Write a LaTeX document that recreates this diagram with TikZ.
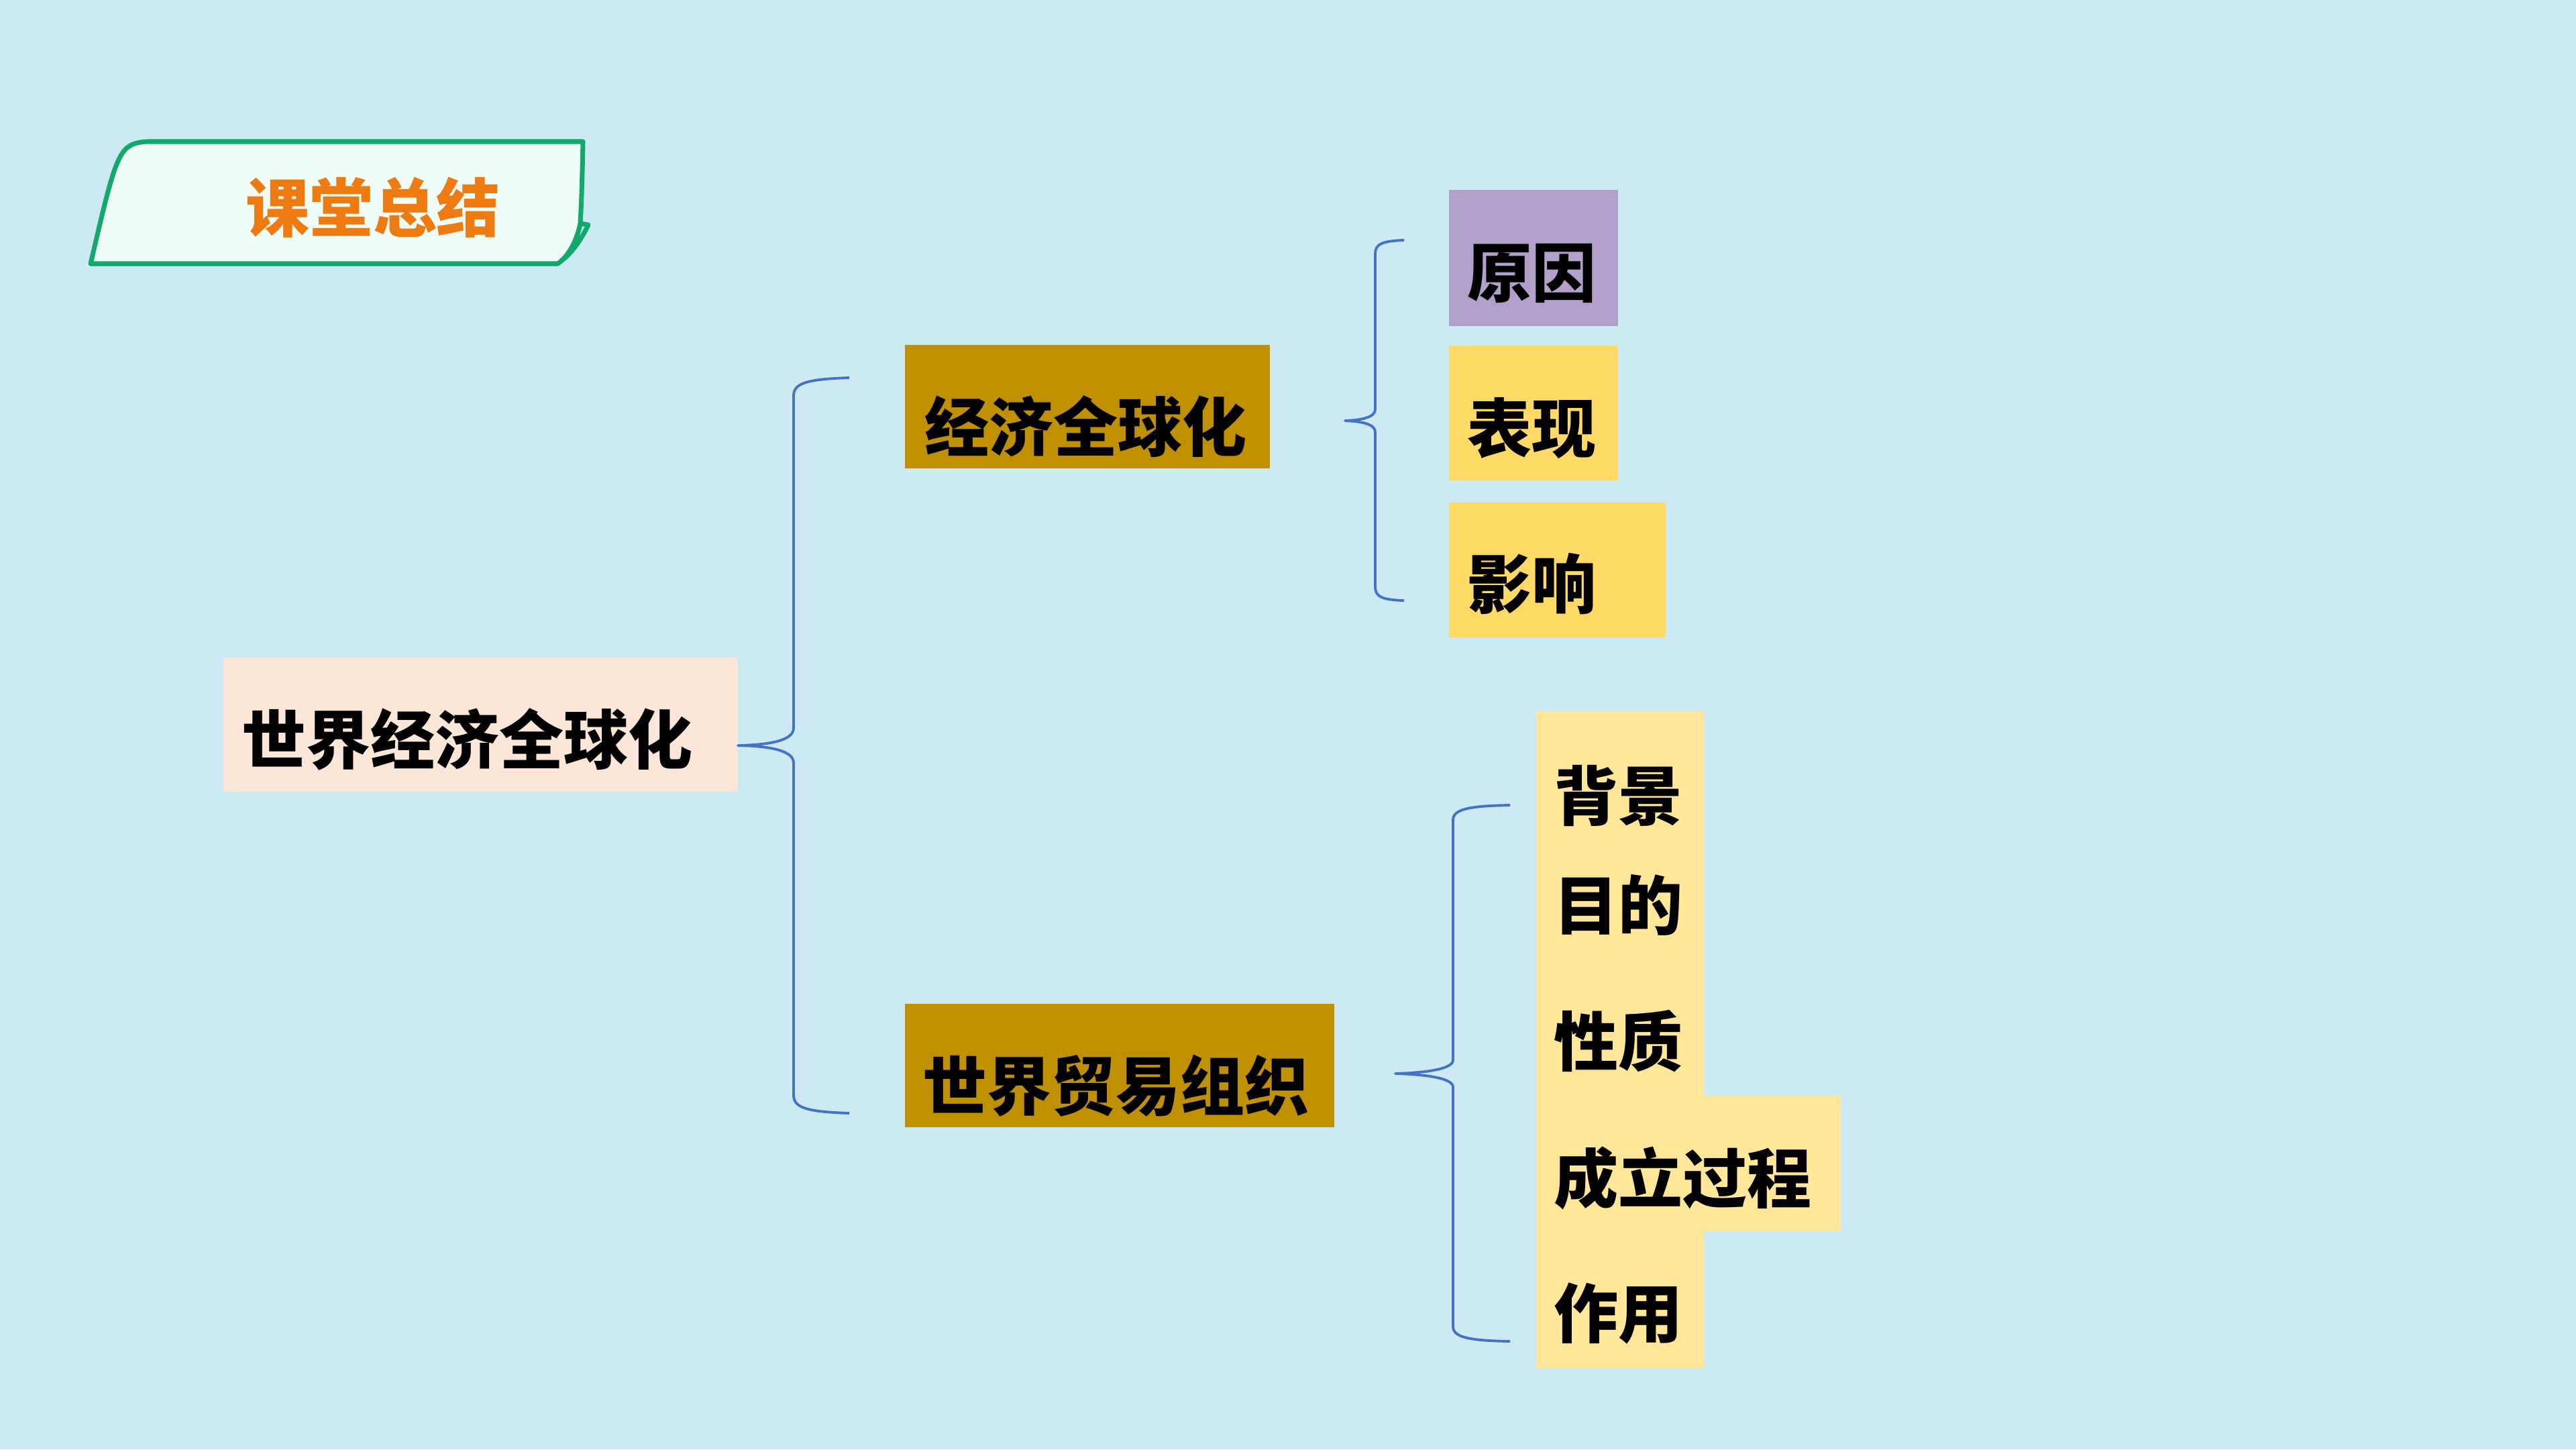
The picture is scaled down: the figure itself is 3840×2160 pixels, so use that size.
\documentclass[tikz,border=0pt]{standalone}
\usepackage{fontspec}
\newfontfamily\cjk{Noto Sans CJK SC Black}
\definecolor{bgc}{HTML}{CDEAF4}
\definecolor{gold}{HTML}{BF9000}
\definecolor{peach}{HTML}{FCE6D8}
\definecolor{lav}{HTML}{B1A0C7}
\definecolor{ylw}{HTML}{FFD966}
\definecolor{lylw}{HTML}{FFE699}
\definecolor{brc}{HTML}{4472C4}
\definecolor{grn}{HTML}{13A96C}
\definecolor{mint}{HTML}{F0FCF8}
\definecolor{org}{HTML}{EE7A12}
\tikzset{
  box/.style={inner sep=0pt, draw=none},
  lbl/.style={inner sep=0pt, anchor=west, font=\cjk\fontsize{27.3pt}{32pt}\selectfont, text=black},
  brace/.style={draw=brc, line width=1.1pt, line join=round},
}
\begin{document}
\begin{tikzpicture}[x=0.01cm,y=-0.01cm]
\fill[bgc] (0,0) rectangle (3840,2160);
\useasboundingbox (0,0) rectangle (3840,2160);

% title banner
\draw[grn, line width=2pt, fill=mint, line join=round]
  (135,393) .. controls (150,330) and (165,260) .. (178,236)
  .. controls (186,220) and (195,212) .. (220,211) -- (869,211)
  .. controls (868,260) and (867,300) .. (865,333)
  .. controls (860,360) and (845,385) .. (831,393) -- cycle;
\draw[grn, line width=2pt, line join=round]
  (865,333) -- (877,335) .. controls (865,360) and (850,380) .. (836,389);
\node[inner sep=0pt, font=\cjk\fontsize{27pt}{32pt}\selectfont, text=org] (title) at (556,309) {课堂总结};

% boxes
\node[box, fill=peach, minimum width=7.67cm, minimum height=2.00cm] (main) at (716.5,1080) {};
\node[box, fill=gold, minimum width=5.44cm, minimum height=1.84cm] (eg) at (1621,606) {};
\node[box, fill=gold, minimum width=6.40cm, minimum height=1.84cm] (wto) at (1669,1588) {};
\node[box, fill=lav, minimum width=2.52cm, minimum height=2.03cm] (yy) at (2286,384.5) {};
\node[box, fill=ylw, minimum width=2.52cm, minimum height=2.01cm] (bx) at (2286,615.5) {};
\node[box, fill=ylw, minimum width=3.23cm, minimum height=2.01cm] (yx) at (2321.5,849.5) {};
\node[box, fill=lylw, minimum width=2.50cm, minimum height=9.79cm] (tall) at (2415,1549.5) {};
\node[box, fill=lylw, minimum width=4.54cm, minimum height=2.02cm] (ext) at (2517,1734) {};

% labels
\node[lbl] (tmain) at (360,1102) {世界经济全球化};
\node[lbl] (teg) at (1378,636) {经济全球化};
\node[lbl] (twto) at (1375,1618) {世界贸易组织};
\node[lbl] (tyy) at (2187,407) {原因};
\node[lbl] (tbx) at (2187,638) {表现};
\node[lbl] (tyx) at (2187,870) {影响};
\node[lbl] (t1) at (2316,1186) {背景};
\node[lbl] (t2) at (2316,1349) {目的};
\node[lbl] (t3) at (2316,1552) {性质};
\node[lbl] (t4) at (2316,1756) {成立过程};
\node[lbl] (t5) at (2316,1957) {作用};

% brace coordinates
\coordinate (b1tip) at (1100,1111);
\coordinate (b1top) at (1266,563);
\coordinate (b1bot) at (1266,1659);
\coordinate (b2tip) at (2005,627);
\coordinate (b2top) at (2093,358);
\coordinate (b2bot) at (2093,895);
\coordinate (b3tip) at (2080,1600);
\coordinate (b3top) at (2251,1200);
\coordinate (b3bot) at (2251,1999);

\draw[brace] (b1top) .. controls (1200,565) and (1183,572) .. (1183,590) -- (1183,1085)
  .. controls (1183,1103) and (1150,1110) .. (b1tip)
  .. controls (1150,1112) and (1183,1119) .. (1183,1137) -- (1183,1632)
  .. controls (1183,1650) and (1200,1657) .. (b1bot);
\draw[brace] (b2top) .. controls (2060,359) and (2050,364) .. (2050,378) -- (2050,610)
  .. controls (2050,622) and (2030,626) .. (b2tip)
  .. controls (2030,628) and (2050,632) .. (2050,644) -- (2050,875)
  .. controls (2050,889) and (2060,894) .. (b2bot);
\draw[brace] (b3top) .. controls (2190,1201) and (2166,1206) .. (2166,1222) -- (2166,1580)
  .. controls (2166,1594) and (2120,1599) .. (b3tip)
  .. controls (2120,1601) and (2166,1606) .. (2166,1620) -- (2166,1977)
  .. controls (2166,1993) and (2190,1998) .. (b3bot);
\end{tikzpicture}
\end{document}
